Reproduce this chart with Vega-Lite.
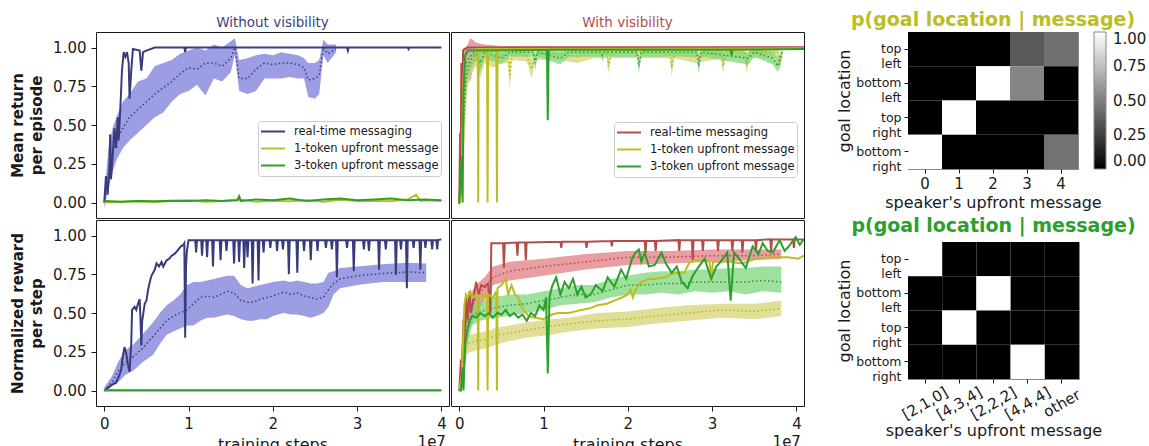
{
"$schema": "https://vega.github.io/schema/vega-lite/v6.json",
"background": "white",
"padding": {"left": 10, "top": 0, "right": 0, "bottom": 0},
"config": {
  "font": "DejaVu Sans",
  "view": {"stroke": "#1a1a1a", "strokeWidth": 1},
  "axis": {"grid": false, "domain": false, "tickColor": "#1a1a1a", "tickSize": 5, "labelColor": "#1a1a1a", "titleColor": "#1a1a1a", "labelFontSize": 15, "titleFontSize": 16, "titleFontWeight": "normal", "labelFlush": false, "labelOverlap": false, "labelPadding": 5},
  "title": {"font": "DejaVu Sans"}
},
"datasets": {
"tl_line": [
{"series":"real-time messaging","x":0,"y":0},{"series":"real-time messaging","x":0.02,"y":0.17},{"series":"real-time messaging","x":0.04,"y":0.05},{"series":"real-time messaging","x":0.06,"y":0.2},{"series":"real-time messaging","x":0.07,"y":0.44},{"series":"real-time messaging","x":0.08,"y":0.15},{"series":"real-time messaging","x":0.1,"y":0.3},{"series":"real-time messaging","x":0.12,"y":0.48},{"series":"real-time messaging","x":0.14,"y":0.35},{"series":"real-time messaging","x":0.16,"y":0.55},{"series":"real-time messaging","x":0.17,"y":0.4},{"series":"real-time messaging","x":0.19,"y":0.6},{"series":"real-time messaging","x":0.21,"y":0.85},{"series":"real-time messaging","x":0.23,"y":0.97},{"series":"real-time messaging","x":0.25,"y":0.94},{"series":"real-time messaging","x":0.27,"y":0.97},{"series":"real-time messaging","x":0.29,"y":0.9},{"series":"real-time messaging","x":0.3,"y":0.67},{"series":"real-time messaging","x":0.32,"y":0.85},{"series":"real-time messaging","x":0.34,"y":0.99},{"series":"real-time messaging","x":0.42,"y":0.98},{"series":"real-time messaging","x":0.44,"y":0.85},{"series":"real-time messaging","x":0.46,"y":0.97},{"series":"real-time messaging","x":0.5,"y":0.98},{"series":"real-time messaging","x":0.6,"y":1.0},{"series":"real-time messaging","x":0.95,"y":1.0},{"series":"real-time messaging","x":0.96,"y":0.97},{"series":"real-time messaging","x":0.97,"y":1.0},{"series":"real-time messaging","x":2.88,"y":1.0},{"series":"real-time messaging","x":2.89,"y":0.98},{"series":"real-time messaging","x":2.9,"y":1.0},{"series":"real-time messaging","x":3.6,"y":1.0},{"series":"real-time messaging","x":3.61,"y":0.99},{"series":"real-time messaging","x":3.62,"y":1.0},{"series":"real-time messaging","x":4.0,"y":1.0},
{"series":"1-token upfront message","x":0,"y":0.0},{"series":"1-token upfront message","x":0.2,"y":0.005},{"series":"1-token upfront message","x":0.4,"y":0.008},{"series":"1-token upfront message","x":0.6,"y":0.004},{"series":"1-token upfront message","x":0.8,"y":0.01},{"series":"1-token upfront message","x":1.0,"y":0.015},{"series":"1-token upfront message","x":1.2,"y":0.005},{"series":"1-token upfront message","x":1.4,"y":0.01},{"series":"1-token upfront message","x":1.6,"y":0.02},{"series":"1-token upfront message","x":1.8,"y":0.005},{"series":"1-token upfront message","x":2.0,"y":0.012},{"series":"1-token upfront message","x":2.2,"y":0.008},{"series":"1-token upfront message","x":2.4,"y":0.015},{"series":"1-token upfront message","x":2.6,"y":0.005},{"series":"1-token upfront message","x":2.8,"y":0.018},{"series":"1-token upfront message","x":3.0,"y":0.01},{"series":"1-token upfront message","x":3.2,"y":0.012},{"series":"1-token upfront message","x":3.4,"y":0.008},{"series":"1-token upfront message","x":3.6,"y":0.02},{"series":"1-token upfront message","x":3.7,"y":0.05},{"series":"1-token upfront message","x":3.75,"y":0.01},{"series":"1-token upfront message","x":3.8,"y":0.015},{"series":"1-token upfront message","x":4.0,"y":0.01},
{"series":"3-token upfront message","x":0,"y":0.01},{"series":"3-token upfront message","x":0.2,"y":0.005},{"series":"3-token upfront message","x":0.4,"y":0.01},{"series":"3-token upfront message","x":0.6,"y":0.008},{"series":"3-token upfront message","x":0.8,"y":0.012},{"series":"3-token upfront message","x":1.0,"y":0.01},{"series":"3-token upfront message","x":1.2,"y":0.015},{"series":"3-token upfront message","x":1.4,"y":0.01},{"series":"3-token upfront message","x":1.58,"y":0.015},{"series":"3-token upfront message","x":1.6,"y":0.04},{"series":"3-token upfront message","x":1.62,"y":0.01},{"series":"3-token upfront message","x":1.8,"y":0.02},{"series":"3-token upfront message","x":2.0,"y":0.015},{"series":"3-token upfront message","x":2.2,"y":0.025},{"series":"3-token upfront message","x":2.4,"y":0.01},{"series":"3-token upfront message","x":2.6,"y":0.02},{"series":"3-token upfront message","x":2.8,"y":0.025},{"series":"3-token upfront message","x":3.0,"y":0.015},{"series":"3-token upfront message","x":3.2,"y":0.02},{"series":"3-token upfront message","x":3.4,"y":0.025},{"series":"3-token upfront message","x":3.6,"y":0.015},{"series":"3-token upfront message","x":3.8,"y":0.02},{"series":"3-token upfront message","x":4.0,"y":0.015}
],
"tl_band": [
{"series":"real-time messaging","x":0,"lo":-0.04,"mean":0,"hi":0.04},{"series":"real-time messaging","x":0.05,"lo":0.1,"mean":0.2,"hi":0.35},{"series":"real-time messaging","x":0.1,"lo":0.2,"mean":0.33,"hi":0.48},{"series":"real-time messaging","x":0.15,"lo":0.28,"mean":0.4,"hi":0.56},{"series":"real-time messaging","x":0.22,"lo":0.35,"mean":0.48,"hi":0.65},{"series":"real-time messaging","x":0.3,"lo":0.4,"mean":0.55,"hi":0.7},{"series":"real-time messaging","x":0.4,"lo":0.45,"mean":0.6,"hi":0.78},{"series":"real-time messaging","x":0.5,"lo":0.5,"mean":0.65,"hi":0.8},{"series":"real-time messaging","x":0.6,"lo":0.55,"mean":0.7,"hi":0.88},{"series":"real-time messaging","x":0.7,"lo":0.58,"mean":0.74,"hi":0.9},{"series":"real-time messaging","x":0.8,"lo":0.65,"mean":0.78,"hi":0.92},{"series":"real-time messaging","x":0.9,"lo":0.7,"mean":0.83,"hi":0.96},{"series":"real-time messaging","x":1.0,"lo":0.72,"mean":0.87,"hi":0.98},{"series":"real-time messaging","x":1.1,"lo":0.76,"mean":0.86,"hi":1.0},{"series":"real-time messaging","x":1.2,"lo":0.69,"mean":0.9,"hi":0.98},{"series":"real-time messaging","x":1.3,"lo":0.8,"mean":0.9,"hi":1.02},{"series":"real-time messaging","x":1.4,"lo":0.78,"mean":0.88,"hi":1.0},{"series":"real-time messaging","x":1.5,"lo":0.84,"mean":0.93,"hi":1.04},{"series":"real-time messaging","x":1.55,"lo":0.95,"mean":1.0,"hi":1.06},{"series":"real-time messaging","x":1.6,"lo":0.72,"mean":0.8,"hi":0.92},{"series":"real-time messaging","x":1.7,"lo":0.7,"mean":0.8,"hi":0.93},{"series":"real-time messaging","x":1.8,"lo":0.72,"mean":0.86,"hi":0.95},{"series":"real-time messaging","x":1.9,"lo":0.8,"mean":0.9,"hi":0.96},{"series":"real-time messaging","x":2.0,"lo":0.8,"mean":0.89,"hi":0.95},{"series":"real-time messaging","x":2.1,"lo":0.8,"mean":0.9,"hi":0.97},{"series":"real-time messaging","x":2.2,"lo":0.81,"mean":0.9,"hi":0.96},{"series":"real-time messaging","x":2.3,"lo":0.8,"mean":0.89,"hi":0.95},{"series":"real-time messaging","x":2.37,"lo":0.8,"mean":0.87,"hi":0.93},{"series":"real-time messaging","x":2.42,"lo":0.68,"mean":0.79,"hi":0.9},{"series":"real-time messaging","x":2.5,"lo":0.67,"mean":0.8,"hi":0.9},{"series":"real-time messaging","x":2.55,"lo":0.7,"mean":0.82,"hi":0.92},{"series":"real-time messaging","x":2.6,"lo":0.95,"mean":1.0,"hi":1.05},{"series":"real-time messaging","x":2.65,"lo":0.9,"mean":0.96,"hi":1.02},{"series":"real-time messaging","x":2.75,"lo":0.97,"mean":0.99,"hi":1.02}
],
"bl_line": [
{"series":"real-time messaging","x":0,"y":0},{"series":"real-time messaging","x":0.05,"y":0.02},{"series":"real-time messaging","x":0.1,"y":0.04},{"series":"real-time messaging","x":0.14,"y":0.05},{"series":"real-time messaging","x":0.18,"y":0.1},{"series":"real-time messaging","x":0.2,"y":0.13},{"series":"real-time messaging","x":0.22,"y":0.22},{"series":"real-time messaging","x":0.24,"y":0.28},{"series":"real-time messaging","x":0.26,"y":0.24},{"series":"real-time messaging","x":0.28,"y":0.17},{"series":"real-time messaging","x":0.3,"y":0.12},{"series":"real-time messaging","x":0.32,"y":0.3},{"series":"real-time messaging","x":0.33,"y":0.52},{"series":"real-time messaging","x":0.36,"y":0.54},{"series":"real-time messaging","x":0.38,"y":0.52},{"series":"real-time messaging","x":0.4,"y":0.56},{"series":"real-time messaging","x":0.42,"y":0.59},{"series":"real-time messaging","x":0.43,"y":0.45},{"series":"real-time messaging","x":0.44,"y":0.29},{"series":"real-time messaging","x":0.45,"y":0.45},{"series":"real-time messaging","x":0.48,"y":0.56},{"series":"real-time messaging","x":0.5,"y":0.58},{"series":"real-time messaging","x":0.52,"y":0.65},{"series":"real-time messaging","x":0.54,"y":0.7},{"series":"real-time messaging","x":0.56,"y":0.74},{"series":"real-time messaging","x":0.6,"y":0.78},{"series":"real-time messaging","x":0.62,"y":0.82},{"series":"real-time messaging","x":0.65,"y":0.8},{"series":"real-time messaging","x":0.68,"y":0.83},{"series":"real-time messaging","x":0.7,"y":0.8},{"series":"real-time messaging","x":0.74,"y":0.84},{"series":"real-time messaging","x":0.77,"y":0.85},{"series":"real-time messaging","x":0.8,"y":0.87},{"series":"real-time messaging","x":0.83,"y":0.88},{"series":"real-time messaging","x":0.85,"y":0.89},{"series":"real-time messaging","x":0.88,"y":0.91},{"series":"real-time messaging","x":0.91,"y":0.93},{"series":"real-time messaging","x":0.94,"y":0.94},{"series":"real-time messaging","x":0.95,"y":0.95},{"series":"real-time messaging","x":0.96,"y":0.34},{"series":"real-time messaging","x":0.97,"y":0.8},{"series":"real-time messaging","x":0.98,"y":0.9},{"series":"real-time messaging","x":1.0,"y":0.97},
{"series":"real-time messaging","x":1.08,"y":0.97},{"series":"real-time messaging","x":1.09,"y":0.89},{"series":"real-time messaging","x":1.1,"y":0.97},
{"series":"real-time messaging","x":1.15,"y":0.97},{"series":"real-time messaging","x":1.16,"y":0.87},{"series":"real-time messaging","x":1.17,"y":0.97},
{"series":"real-time messaging","x":1.21,"y":0.97},{"series":"real-time messaging","x":1.22,"y":0.86},{"series":"real-time messaging","x":1.23,"y":0.97},
{"series":"real-time messaging","x":1.28,"y":0.97},{"series":"real-time messaging","x":1.29,"y":0.8},{"series":"real-time messaging","x":1.3,"y":0.97},
{"series":"real-time messaging","x":1.37,"y":0.97},{"series":"real-time messaging","x":1.38,"y":0.84},{"series":"real-time messaging","x":1.39,"y":0.97},
{"series":"real-time messaging","x":1.44,"y":0.97},{"series":"real-time messaging","x":1.45,"y":0.9},{"series":"real-time messaging","x":1.46,"y":0.97},
{"series":"real-time messaging","x":1.53,"y":0.97},{"series":"real-time messaging","x":1.54,"y":0.82},{"series":"real-time messaging","x":1.55,"y":0.97},
{"series":"real-time messaging","x":1.59,"y":0.97},{"series":"real-time messaging","x":1.6,"y":0.83},{"series":"real-time messaging","x":1.61,"y":0.97},
{"series":"real-time messaging","x":1.65,"y":0.97},{"series":"real-time messaging","x":1.66,"y":0.79},{"series":"real-time messaging","x":1.67,"y":0.97},
{"series":"real-time messaging","x":1.69,"y":0.97},{"series":"real-time messaging","x":1.7,"y":0.86},{"series":"real-time messaging","x":1.71,"y":0.97},
{"series":"real-time messaging","x":1.75,"y":0.97},{"series":"real-time messaging","x":1.76,"y":0.69},{"series":"real-time messaging","x":1.77,"y":0.97},
{"series":"real-time messaging","x":1.82,"y":0.97},{"series":"real-time messaging","x":1.83,"y":0.71},{"series":"real-time messaging","x":1.84,"y":0.97},
{"series":"real-time messaging","x":1.88,"y":0.97},{"series":"real-time messaging","x":1.89,"y":0.89},{"series":"real-time messaging","x":1.9,"y":0.97},
{"series":"real-time messaging","x":1.96,"y":0.97},{"series":"real-time messaging","x":1.97,"y":0.92},{"series":"real-time messaging","x":1.98,"y":0.97},
{"series":"real-time messaging","x":2.04,"y":0.97},{"series":"real-time messaging","x":2.05,"y":0.9},{"series":"real-time messaging","x":2.06,"y":0.97},
{"series":"real-time messaging","x":2.11,"y":0.97},{"series":"real-time messaging","x":2.12,"y":0.91},{"series":"real-time messaging","x":2.13,"y":0.97},
{"series":"real-time messaging","x":2.18,"y":0.97},{"series":"real-time messaging","x":2.19,"y":0.75},{"series":"real-time messaging","x":2.2,"y":0.97},
{"series":"real-time messaging","x":2.28,"y":0.97},{"series":"real-time messaging","x":2.29,"y":0.76},{"series":"real-time messaging","x":2.3,"y":0.97},
{"series":"real-time messaging","x":2.36,"y":0.97},{"series":"real-time messaging","x":2.37,"y":0.9},{"series":"real-time messaging","x":2.38,"y":0.97},
{"series":"real-time messaging","x":2.44,"y":0.97},{"series":"real-time messaging","x":2.45,"y":0.84},{"series":"real-time messaging","x":2.46,"y":0.97},
{"series":"real-time messaging","x":2.52,"y":0.97},{"series":"real-time messaging","x":2.53,"y":0.9},{"series":"real-time messaging","x":2.54,"y":0.97},
{"series":"real-time messaging","x":2.62,"y":0.97},{"series":"real-time messaging","x":2.63,"y":0.92},{"series":"real-time messaging","x":2.64,"y":0.97},
{"series":"real-time messaging","x":2.69,"y":0.97},{"series":"real-time messaging","x":2.7,"y":0.91},{"series":"real-time messaging","x":2.71,"y":0.97},
{"series":"real-time messaging","x":2.75,"y":0.97},{"series":"real-time messaging","x":2.76,"y":0.73},{"series":"real-time messaging","x":2.77,"y":0.97},
{"series":"real-time messaging","x":2.87,"y":0.97},{"series":"real-time messaging","x":2.88,"y":0.92},{"series":"real-time messaging","x":2.89,"y":0.97},
{"series":"real-time messaging","x":2.95,"y":0.97},{"series":"real-time messaging","x":2.96,"y":0.77},{"series":"real-time messaging","x":2.97,"y":0.97},
{"series":"real-time messaging","x":3.07,"y":0.97},{"series":"real-time messaging","x":3.08,"y":0.91},{"series":"real-time messaging","x":3.09,"y":0.97},
{"series":"real-time messaging","x":3.13,"y":0.97},{"series":"real-time messaging","x":3.14,"y":0.9},{"series":"real-time messaging","x":3.15,"y":0.97},
{"series":"real-time messaging","x":3.25,"y":0.97},{"series":"real-time messaging","x":3.26,"y":0.78},{"series":"real-time messaging","x":3.27,"y":0.97},
{"series":"real-time messaging","x":3.33,"y":0.97},{"series":"real-time messaging","x":3.34,"y":0.91},{"series":"real-time messaging","x":3.35,"y":0.97},
{"series":"real-time messaging","x":3.45,"y":0.97},{"series":"real-time messaging","x":3.46,"y":0.745},{"series":"real-time messaging","x":3.47,"y":0.97},
{"series":"real-time messaging","x":3.51,"y":0.97},{"series":"real-time messaging","x":3.52,"y":0.91},{"series":"real-time messaging","x":3.53,"y":0.97},
{"series":"real-time messaging","x":3.58,"y":0.97},{"series":"real-time messaging","x":3.59,"y":0.66},{"series":"real-time messaging","x":3.6,"y":0.97},
{"series":"real-time messaging","x":3.66,"y":0.97},{"series":"real-time messaging","x":3.67,"y":0.92},{"series":"real-time messaging","x":3.68,"y":0.97},
{"series":"real-time messaging","x":3.74,"y":0.97},{"series":"real-time messaging","x":3.75,"y":0.78},{"series":"real-time messaging","x":3.76,"y":0.97},
{"series":"real-time messaging","x":3.8,"y":0.97},{"series":"real-time messaging","x":3.81,"y":0.92},{"series":"real-time messaging","x":3.82,"y":0.97},
{"series":"real-time messaging","x":3.88,"y":0.97},{"series":"real-time messaging","x":3.89,"y":0.91},{"series":"real-time messaging","x":3.9,"y":0.97},
{"series":"real-time messaging","x":3.94,"y":0.97},{"series":"real-time messaging","x":3.95,"y":0.91},{"series":"real-time messaging","x":3.96,"y":0.97},
{"series":"real-time messaging","x":4.0,"y":0.975},
{"series":"1-token upfront message","x":0,"y":0},{"series":"1-token upfront message","x":4.0,"y":0},
{"series":"3-token upfront message","x":0,"y":0.002},{"series":"3-token upfront message","x":4.0,"y":0.002}
],
"bl_band": [
{"series":"real-time messaging","x":0,"lo":-0.01,"mean":0,"hi":0.02},{"series":"real-time messaging","x":0.1,"lo":0.03,"mean":0.06,"hi":0.1},{"series":"real-time messaging","x":0.16,"lo":0.05,"mean":0.12,"hi":0.18},{"series":"real-time messaging","x":0.25,"lo":0.1,"mean":0.18,"hi":0.26},{"series":"real-time messaging","x":0.35,"lo":0.13,"mean":0.22,"hi":0.3},{"series":"real-time messaging","x":0.45,"lo":0.18,"mean":0.27,"hi":0.36},{"series":"real-time messaging","x":0.58,"lo":0.23,"mean":0.35,"hi":0.44},{"series":"real-time messaging","x":0.66,"lo":0.3,"mean":0.4,"hi":0.5},{"series":"real-time messaging","x":0.74,"lo":0.36,"mean":0.45,"hi":0.55},{"series":"real-time messaging","x":0.82,"lo":0.38,"mean":0.48,"hi":0.58},{"series":"real-time messaging","x":0.9,"lo":0.4,"mean":0.5,"hi":0.62},{"series":"real-time messaging","x":0.98,"lo":0.42,"mean":0.52,"hi":0.68},{"series":"real-time messaging","x":1.06,"lo":0.42,"mean":0.56,"hi":0.7},{"series":"real-time messaging","x":1.14,"lo":0.45,"mean":0.6,"hi":0.7},{"series":"real-time messaging","x":1.22,"lo":0.47,"mean":0.61,"hi":0.71},{"series":"real-time messaging","x":1.3,"lo":0.47,"mean":0.6,"hi":0.72},{"series":"real-time messaging","x":1.38,"lo":0.48,"mean":0.62,"hi":0.73},{"series":"real-time messaging","x":1.46,"lo":0.49,"mean":0.64,"hi":0.74},{"series":"real-time messaging","x":1.54,"lo":0.48,"mean":0.63,"hi":0.74},{"series":"real-time messaging","x":1.62,"lo":0.46,"mean":0.58,"hi":0.68},{"series":"real-time messaging","x":1.7,"lo":0.45,"mean":0.57,"hi":0.66},{"series":"real-time messaging","x":1.77,"lo":0.45,"mean":0.57,"hi":0.67},{"series":"real-time messaging","x":1.85,"lo":0.46,"mean":0.59,"hi":0.68},{"series":"real-time messaging","x":1.93,"lo":0.46,"mean":0.6,"hi":0.69},{"series":"real-time messaging","x":2.0,"lo":0.48,"mean":0.61,"hi":0.7},{"series":"real-time messaging","x":2.13,"lo":0.5,"mean":0.635,"hi":0.71},{"series":"real-time messaging","x":2.21,"lo":0.49,"mean":0.62,"hi":0.7},{"series":"real-time messaging","x":2.29,"lo":0.49,"mean":0.63,"hi":0.71},{"series":"real-time messaging","x":2.37,"lo":0.48,"mean":0.61,"hi":0.7},{"series":"real-time messaging","x":2.45,"lo":0.47,"mean":0.6,"hi":0.69},{"series":"real-time messaging","x":2.52,"lo":0.48,"mean":0.59,"hi":0.69},{"series":"real-time messaging","x":2.6,"lo":0.5,"mean":0.6,"hi":0.7},{"series":"real-time messaging","x":2.66,"lo":0.54,"mean":0.65,"hi":0.76},{"series":"real-time messaging","x":2.72,"lo":0.62,"mean":0.69,"hi":0.77},{"series":"real-time messaging","x":2.8,"lo":0.66,"mean":0.72,"hi":0.79},{"series":"real-time messaging","x":3.0,"lo":0.68,"mean":0.74,"hi":0.8},{"series":"real-time messaging","x":3.3,"lo":0.7,"mean":0.755,"hi":0.815},{"series":"real-time messaging","x":3.6,"lo":0.7,"mean":0.765,"hi":0.825},{"series":"real-time messaging","x":3.82,"lo":0.7,"mean":0.76,"hi":0.82}
],
"tr_line": [
{"series":"real-time messaging","x":0,"y":-0.01},{"series":"real-time messaging","x":0.01,"y":0.45},{"series":"real-time messaging","x":0.015,"y":0.05},{"series":"real-time messaging","x":0.025,"y":0.9},{"series":"real-time messaging","x":0.035,"y":0.55},{"series":"real-time messaging","x":0.045,"y":0.98},{"series":"real-time messaging","x":0.06,"y":0.99},{"series":"real-time messaging","x":0.1,"y":1.0},{"series":"real-time messaging","x":4.09,"y":1.0},
{"series":"1-token upfront message","x":0,"y":0},{"series":"1-token upfront message","x":0.03,"y":0.2},{"series":"1-token upfront message","x":0.05,"y":0.8},{"series":"1-token upfront message","x":0.07,"y":0.95},{"series":"1-token upfront message","x":0.1,"y":0.98},{"series":"1-token upfront message","x":0.22,"y":0.99},{"series":"1-token upfront message","x":0.225,"y":0.0},{"series":"1-token upfront message","x":0.23,"y":0.99},{"series":"1-token upfront message","x":0.33,"y":0.99},{"series":"1-token upfront message","x":0.336,"y":0.0},{"series":"1-token upfront message","x":0.342,"y":0.99},{"series":"1-token upfront message","x":0.44,"y":0.99},{"series":"1-token upfront message","x":0.447,"y":0.0},{"series":"1-token upfront message","x":0.454,"y":0.99},{"series":"1-token upfront message","x":4.09,"y":0.995},
{"series":"3-token upfront message","x":0,"y":0},{"series":"3-token upfront message","x":0.03,"y":0.3},{"series":"3-token upfront message","x":0.04,"y":0.0},{"series":"3-token upfront message","x":0.05,"y":0.7},{"series":"3-token upfront message","x":0.07,"y":0.95},{"series":"3-token upfront message","x":0.1,"y":0.98},{"series":"3-token upfront message","x":1.04,"y":0.985},{"series":"3-token upfront message","x":1.05,"y":0.53},{"series":"3-token upfront message","x":1.06,"y":0.985},{"series":"3-token upfront message","x":3.22,"y":0.985},{"series":"3-token upfront message","x":3.23,"y":0.95},{"series":"3-token upfront message","x":3.24,"y":0.985},{"series":"3-token upfront message","x":4.09,"y":0.99}
],
"tr_band": [
{"series":"real-time messaging","x":0,"lo":-0.02,"mean":0,"hi":0.02},{"series":"real-time messaging","x":0.02,"lo":0.1,"mean":0.4,"hi":0.7},{"series":"real-time messaging","x":0.05,"lo":0.6,"mean":0.85,"hi":0.98},{"series":"real-time messaging","x":0.1,"lo":0.8,"mean":0.92,"hi":1.02},{"series":"real-time messaging","x":0.13,"lo":0.78,"mean":0.94,"hi":1.06},{"series":"real-time messaging","x":0.16,"lo":0.85,"mean":0.96,"hi":1.05},{"series":"real-time messaging","x":0.2,"lo":0.92,"mean":0.98,"hi":1.03},{"series":"real-time messaging","x":0.3,"lo":0.97,"mean":0.99,"hi":1.02},{"series":"real-time messaging","x":0.5,"lo":0.98,"mean":1.0,"hi":1.01},{"series":"real-time messaging","x":4.09,"lo":0.99,"mean":1.0,"hi":1.01},
{"series":"1-token upfront message","x":0,"lo":-0.02,"mean":0,"hi":0.02},{"series":"1-token upfront message","x":0.02,"lo":0.0,"mean":0.1,"hi":0.25},{"series":"1-token upfront message","x":0.04,"lo":0.1,"mean":0.3,"hi":0.5},{"series":"1-token upfront message","x":0.06,"lo":0.35,"mean":0.55,"hi":0.75},{"series":"1-token upfront message","x":0.08,"lo":0.6,"mean":0.75,"hi":0.9},{"series":"1-token upfront message","x":0.1,"lo":0.75,"mean":0.85,"hi":0.95},{"series":"1-token upfront message","x":0.15,"lo":0.84,"mean":0.9,"hi":0.97},{"series":"1-token upfront message","x":0.2,"lo":0.88,"mean":0.93,"hi":0.98},{"series":"1-token upfront message","x":0.25,"lo":0.8,"mean":0.88,"hi":0.96},{"series":"1-token upfront message","x":0.3,"lo":0.9,"mean":0.95,"hi":0.99},{"series":"1-token upfront message","x":0.4,"lo":0.87,"mean":0.92,"hi":0.98},{"series":"1-token upfront message","x":0.5,"lo":0.9,"mean":0.95,"hi":0.99},{"series":"1-token upfront message","x":0.58,"lo":0.9,"mean":0.95,"hi":0.99},{"series":"1-token upfront message","x":0.6,"lo":0.72,"mean":0.8,"hi":0.9},{"series":"1-token upfront message","x":0.62,"lo":0.9,"mean":0.95,"hi":0.99},{"series":"1-token upfront message","x":0.65,"lo":0.92,"mean":0.96,"hi":0.99},{"series":"1-token upfront message","x":0.8,"lo":0.91,"mean":0.95,"hi":0.99},{"series":"1-token upfront message","x":0.86,"lo":0.8,"mean":0.86,"hi":0.93},{"series":"1-token upfront message","x":0.9,"lo":0.92,"mean":0.96,"hi":0.99},{"series":"1-token upfront message","x":1.2,"lo":0.92,"mean":0.96,"hi":0.99},{"series":"1-token upfront message","x":1.4,"lo":0.9,"mean":0.94,"hi":0.98},{"series":"1-token upfront message","x":1.6,"lo":0.93,"mean":0.97,"hi":0.99},{"series":"1-token upfront message","x":1.75,"lo":0.93,"mean":0.97,"hi":0.99},{"series":"1-token upfront message","x":1.77,"lo":0.83,"mean":0.88,"hi":0.93},{"series":"1-token upfront message","x":1.8,"lo":0.93,"mean":0.97,"hi":0.99},{"series":"1-token upfront message","x":2.5,"lo":0.93,"mean":0.97,"hi":0.99},{"series":"1-token upfront message","x":2.52,"lo":0.81,"mean":0.87,"hi":0.93},{"series":"1-token upfront message","x":2.55,"lo":0.93,"mean":0.96,"hi":0.99},{"series":"1-token upfront message","x":2.8,"lo":0.9,"mean":0.94,"hi":0.98},{"series":"1-token upfront message","x":3.11,"lo":0.93,"mean":0.97,"hi":0.99},{"series":"1-token upfront message","x":3.13,"lo":0.83,"mean":0.88,"hi":0.93},{"series":"1-token upfront message","x":3.16,"lo":0.93,"mean":0.97,"hi":0.99},{"series":"1-token upfront message","x":3.39,"lo":0.93,"mean":0.97,"hi":0.99},{"series":"1-token upfront message","x":3.41,"lo":0.83,"mean":0.88,"hi":0.93},{"series":"1-token upfront message","x":3.44,"lo":0.93,"mean":0.97,"hi":0.99},{"series":"1-token upfront message","x":3.78,"lo":0.93,"mean":0.97,"hi":0.99},{"series":"1-token upfront message","x":3.8,"lo":0.84,"mean":0.89,"hi":0.94},{"series":"1-token upfront message","x":3.83,"lo":0.93,"mean":0.97,"hi":0.99},
{"series":"3-token upfront message","x":0,"lo":-0.02,"mean":0,"hi":0.02},{"series":"3-token upfront message","x":0.02,"lo":0.05,"mean":0.15,"hi":0.3},{"series":"3-token upfront message","x":0.04,"lo":0.25,"mean":0.4,"hi":0.6},{"series":"3-token upfront message","x":0.06,"lo":0.5,"mean":0.65,"hi":0.8},{"series":"3-token upfront message","x":0.08,"lo":0.7,"mean":0.8,"hi":0.9},{"series":"3-token upfront message","x":0.1,"lo":0.8,"mean":0.88,"hi":0.95},{"series":"3-token upfront message","x":0.15,"lo":0.88,"mean":0.93,"hi":0.98},{"series":"3-token upfront message","x":0.2,"lo":0.92,"mean":0.96,"hi":0.99},{"series":"3-token upfront message","x":0.25,"lo":0.84,"mean":0.9,"hi":0.96},{"series":"3-token upfront message","x":0.3,"lo":0.93,"mean":0.97,"hi":0.99},{"series":"3-token upfront message","x":0.5,"lo":0.89,"mean":0.93,"hi":0.97},{"series":"3-token upfront message","x":0.6,"lo":0.94,"mean":0.97,"hi":0.99},{"series":"3-token upfront message","x":0.88,"lo":0.94,"mean":0.97,"hi":0.99},{"series":"3-token upfront message","x":0.9,"lo":0.85,"mean":0.9,"hi":0.95},{"series":"3-token upfront message","x":0.93,"lo":0.94,"mean":0.97,"hi":0.99},{"series":"3-token upfront message","x":1.2,"lo":0.89,"mean":0.93,"hi":0.97},{"series":"3-token upfront message","x":1.3,"lo":0.94,"mean":0.97,"hi":0.99},{"series":"3-token upfront message","x":1.68,"lo":0.94,"mean":0.97,"hi":0.99},{"series":"3-token upfront message","x":1.7,"lo":0.91,"mean":0.95,"hi":0.98},{"series":"3-token upfront message","x":1.72,"lo":0.94,"mean":0.97,"hi":0.99},{"series":"3-token upfront message","x":2.11,"lo":0.94,"mean":0.97,"hi":0.99},{"series":"3-token upfront message","x":2.13,"lo":0.83,"mean":0.88,"hi":0.93},{"series":"3-token upfront message","x":2.16,"lo":0.94,"mean":0.97,"hi":0.99},{"series":"3-token upfront message","x":2.82,"lo":0.94,"mean":0.97,"hi":0.99},{"series":"3-token upfront message","x":2.84,"lo":0.83,"mean":0.88,"hi":0.93},{"series":"3-token upfront message","x":2.87,"lo":0.94,"mean":0.97,"hi":0.99},{"series":"3-token upfront message","x":3.43,"lo":0.89,"mean":0.93,"hi":0.97},{"series":"3-token upfront message","x":3.5,"lo":0.94,"mean":0.97,"hi":0.99},{"series":"3-token upfront message","x":3.72,"lo":0.89,"mean":0.93,"hi":0.97},{"series":"3-token upfront message","x":3.78,"lo":0.84,"mean":0.88,"hi":0.93},{"series":"3-token upfront message","x":3.83,"lo":0.94,"mean":0.97,"hi":0.99}
],
"br_line": [
{"series":"real-time messaging","x":0,"y":0},{"series":"real-time messaging","x":0.02,"y":0.2},{"series":"real-time messaging","x":0.03,"y":0.1},{"series":"real-time messaging","x":0.05,"y":0.46},{"series":"real-time messaging","x":0.06,"y":0.3},{"series":"real-time messaging","x":0.08,"y":0.61},{"series":"real-time messaging","x":0.1,"y":0.45},{"series":"real-time messaging","x":0.12,"y":0.64},{"series":"real-time messaging","x":0.14,"y":0.5},{"series":"real-time messaging","x":0.17,"y":0.6},{"series":"real-time messaging","x":0.2,"y":0.7},{"series":"real-time messaging","x":0.23,"y":0.62},{"series":"real-time messaging","x":0.26,"y":0.68},{"series":"real-time messaging","x":0.3,"y":0.67},{"series":"real-time messaging","x":0.34,"y":0.69},{"series":"real-time messaging","x":0.37,"y":0.5},{"series":"real-time messaging","x":0.38,"y":0.95},{"series":"real-time messaging","x":0.52,"y":0.95},{"series":"real-time messaging","x":0.53,"y":0.79},{"series":"real-time messaging","x":0.54,"y":0.95},{"series":"real-time messaging","x":0.68,"y":0.955},{"series":"real-time messaging","x":0.69,"y":0.87},{"series":"real-time messaging","x":0.7,"y":0.955},{"series":"real-time messaging","x":0.78,"y":0.955},{"series":"real-time messaging","x":0.79,"y":0.84},{"series":"real-time messaging","x":0.8,"y":0.955},{"series":"real-time messaging","x":1.2,"y":0.96},{"series":"real-time messaging","x":1.21,"y":0.92},{"series":"real-time messaging","x":1.22,"y":0.96},{"series":"real-time messaging","x":1.5,"y":0.96},{"series":"real-time messaging","x":1.51,"y":0.92},{"series":"real-time messaging","x":1.52,"y":0.96},{"series":"real-time messaging","x":1.8,"y":0.965},{"series":"real-time messaging","x":1.81,"y":0.93},{"series":"real-time messaging","x":1.82,"y":0.965},{"series":"real-time messaging","x":2.2,"y":0.965},{"series":"real-time messaging","x":2.21,"y":0.89},{"series":"real-time messaging","x":2.22,"y":0.965},{"series":"real-time messaging","x":2.32,"y":0.965},{"series":"real-time messaging","x":2.33,"y":0.9},{"series":"real-time messaging","x":2.34,"y":0.965},{"series":"real-time messaging","x":2.6,"y":0.97},{"series":"real-time messaging","x":2.61,"y":0.9},{"series":"real-time messaging","x":2.62,"y":0.97},{"series":"real-time messaging","x":2.76,"y":0.97},{"series":"real-time messaging","x":2.77,"y":0.84},{"series":"real-time messaging","x":2.78,"y":0.97},{"series":"real-time messaging","x":2.88,"y":0.97},{"series":"real-time messaging","x":2.89,"y":0.9},{"series":"real-time messaging","x":2.9,"y":0.97},{"series":"real-time messaging","x":3.06,"y":0.97},{"series":"real-time messaging","x":3.07,"y":0.9},{"series":"real-time messaging","x":3.08,"y":0.97},{"series":"real-time messaging","x":3.23,"y":0.97},{"series":"real-time messaging","x":3.24,"y":0.9},{"series":"real-time messaging","x":3.25,"y":0.97},{"series":"real-time messaging","x":3.35,"y":0.97},{"series":"real-time messaging","x":3.36,"y":0.89},{"series":"real-time messaging","x":3.37,"y":0.97},{"series":"real-time messaging","x":3.51,"y":0.97},{"series":"real-time messaging","x":3.52,"y":0.9},{"series":"real-time messaging","x":3.53,"y":0.97},{"series":"real-time messaging","x":3.69,"y":0.975},{"series":"real-time messaging","x":3.7,"y":0.9},{"series":"real-time messaging","x":3.71,"y":0.975},{"series":"real-time messaging","x":3.96,"y":0.975},{"series":"real-time messaging","x":3.97,"y":0.92},{"series":"real-time messaging","x":3.98,"y":0.975},{"series":"real-time messaging","x":4.09,"y":0.975},
{"series":"1-token upfront message","x":0,"y":0},{"series":"1-token upfront message","x":0.03,"y":0.1},{"series":"1-token upfront message","x":0.06,"y":0.55},{"series":"1-token upfront message","x":0.08,"y":0.62},{"series":"1-token upfront message","x":0.1,"y":0.6},{"series":"1-token upfront message","x":0.13,"y":0.64},{"series":"1-token upfront message","x":0.16,"y":0.6},{"series":"1-token upfront message","x":0.2,"y":0.62},{"series":"1-token upfront message","x":0.22,"y":0.6},{"series":"1-token upfront message","x":0.225,"y":0.0},{"series":"1-token upfront message","x":0.23,"y":0.6},{"series":"1-token upfront message","x":0.27,"y":0.62},{"series":"1-token upfront message","x":0.3,"y":0.6},{"series":"1-token upfront message","x":0.33,"y":0.62},{"series":"1-token upfront message","x":0.336,"y":0.0},{"series":"1-token upfront message","x":0.342,"y":0.62},{"series":"1-token upfront message","x":0.4,"y":0.6},{"series":"1-token upfront message","x":0.44,"y":0.64},{"series":"1-token upfront message","x":0.447,"y":0.0},{"series":"1-token upfront message","x":0.454,"y":0.66},{"series":"1-token upfront message","x":0.5,"y":0.68},{"series":"1-token upfront message","x":0.55,"y":0.72},{"series":"1-token upfront message","x":0.58,"y":0.62},{"series":"1-token upfront message","x":0.62,"y":0.68},{"series":"1-token upfront message","x":0.66,"y":0.62},{"series":"1-token upfront message","x":0.7,"y":0.6},{"series":"1-token upfront message","x":0.75,"y":0.53},{"series":"1-token upfront message","x":0.82,"y":0.48},{"series":"1-token upfront message","x":0.9,"y":0.47},{"series":"1-token upfront message","x":1.0,"y":0.46},{"series":"1-token upfront message","x":1.1,"y":0.49},{"series":"1-token upfront message","x":1.17,"y":0.5},{"series":"1-token upfront message","x":1.3,"y":0.5},{"series":"1-token upfront message","x":1.45,"y":0.52},{"series":"1-token upfront message","x":1.55,"y":0.53},{"series":"1-token upfront message","x":1.64,"y":0.55},{"series":"1-token upfront message","x":1.75,"y":0.56},{"series":"1-token upfront message","x":1.84,"y":0.58},{"series":"1-token upfront message","x":1.93,"y":0.6},{"series":"1-token upfront message","x":2.0,"y":0.62},{"series":"1-token upfront message","x":2.03,"y":0.65},{"series":"1-token upfront message","x":2.06,"y":0.6},{"series":"1-token upfront message","x":2.09,"y":0.65},{"series":"1-token upfront message","x":2.16,"y":0.7},{"series":"1-token upfront message","x":2.25,"y":0.72},{"series":"1-token upfront message","x":2.32,"y":0.72},{"series":"1-token upfront message","x":2.44,"y":0.73},{"series":"1-token upfront message","x":2.56,"y":0.76},{"series":"1-token upfront message","x":2.67,"y":0.76},{"series":"1-token upfront message","x":2.73,"y":0.825},{"series":"1-token upfront message","x":2.79,"y":0.835},{"series":"1-token upfront message","x":2.9,"y":0.84},{"series":"1-token upfront message","x":2.97,"y":0.83},{"series":"1-token upfront message","x":2.99,"y":0.71},{"series":"1-token upfront message","x":3.01,"y":0.83},{"series":"1-token upfront message","x":3.2,"y":0.83},{"series":"1-token upfront message","x":3.36,"y":0.82},{"series":"1-token upfront message","x":3.51,"y":0.85},{"series":"1-token upfront message","x":3.71,"y":0.86},{"series":"1-token upfront message","x":3.9,"y":0.86},{"series":"1-token upfront message","x":4.02,"y":0.85},{"series":"1-token upfront message","x":4.09,"y":0.87},
{"series":"3-token upfront message","x":0,"y":0},{"series":"3-token upfront message","x":0.02,"y":0.0},{"series":"3-token upfront message","x":0.04,"y":0.15},{"series":"3-token upfront message","x":0.05,"y":0.0},{"series":"3-token upfront message","x":0.07,"y":0.3},{"series":"3-token upfront message","x":0.1,"y":0.4},{"series":"3-token upfront message","x":0.13,"y":0.46},{"series":"3-token upfront message","x":0.15,"y":0.48},{"series":"3-token upfront message","x":0.2,"y":0.47},{"series":"3-token upfront message","x":0.25,"y":0.5},{"series":"3-token upfront message","x":0.3,"y":0.48},{"series":"3-token upfront message","x":0.35,"y":0.5},{"series":"3-token upfront message","x":0.4,"y":0.47},{"series":"3-token upfront message","x":0.45,"y":0.5},{"series":"3-token upfront message","x":0.5,"y":0.49},{"series":"3-token upfront message","x":0.55,"y":0.52},{"series":"3-token upfront message","x":0.6,"y":0.48},{"series":"3-token upfront message","x":0.65,"y":0.5},{"series":"3-token upfront message","x":0.7,"y":0.47},{"series":"3-token upfront message","x":0.75,"y":0.49},{"series":"3-token upfront message","x":0.8,"y":0.45},{"series":"3-token upfront message","x":0.85,"y":0.5},{"series":"3-token upfront message","x":0.9,"y":0.48},{"series":"3-token upfront message","x":0.95,"y":0.55},{"series":"3-token upfront message","x":1.0,"y":0.52},{"series":"3-token upfront message","x":1.03,"y":0.6},{"series":"3-token upfront message","x":1.05,"y":0.11},{"series":"3-token upfront message","x":1.07,"y":0.6},{"series":"3-token upfront message","x":1.1,"y":0.67},{"series":"3-token upfront message","x":1.15,"y":0.73},{"series":"3-token upfront message","x":1.2,"y":0.62},{"series":"3-token upfront message","x":1.25,"y":0.7},{"series":"3-token upfront message","x":1.3,"y":0.66},{"series":"3-token upfront message","x":1.35,"y":0.72},{"series":"3-token upfront message","x":1.4,"y":0.62},{"series":"3-token upfront message","x":1.45,"y":0.67},{"series":"3-token upfront message","x":1.5,"y":0.6},{"series":"3-token upfront message","x":1.56,"y":0.62},{"series":"3-token upfront message","x":1.62,"y":0.68},{"series":"3-token upfront message","x":1.7,"y":0.64},{"series":"3-token upfront message","x":1.76,"y":0.73},{"series":"3-token upfront message","x":1.84,"y":0.67},{"series":"3-token upfront message","x":1.92,"y":0.78},{"series":"3-token upfront message","x":1.98,"y":0.72},{"series":"3-token upfront message","x":2.05,"y":0.85},{"series":"3-token upfront message","x":2.09,"y":0.89},{"series":"3-token upfront message","x":2.13,"y":0.91},{"series":"3-token upfront message","x":2.16,"y":0.83},{"series":"3-token upfront message","x":2.2,"y":0.89},{"series":"3-token upfront message","x":2.25,"y":0.8},{"series":"3-token upfront message","x":2.32,"y":0.81},{"series":"3-token upfront message","x":2.4,"y":0.89},{"series":"3-token upfront message","x":2.45,"y":0.82},{"series":"3-token upfront message","x":2.52,"y":0.76},{"series":"3-token upfront message","x":2.58,"y":0.8},{"series":"3-token upfront message","x":2.64,"y":0.7},{"series":"3-token upfront message","x":2.71,"y":0.66},{"series":"3-token upfront message","x":2.77,"y":0.74},{"series":"3-token upfront message","x":2.83,"y":0.79},{"series":"3-token upfront message","x":2.91,"y":0.85},{"series":"3-token upfront message","x":2.99,"y":0.72},{"series":"3-token upfront message","x":3.05,"y":0.8},{"series":"3-token upfront message","x":3.1,"y":0.83},{"series":"3-token upfront message","x":3.18,"y":0.89},{"series":"3-token upfront message","x":3.22,"y":0.58},{"series":"3-token upfront message","x":3.26,"y":0.89},{"series":"3-token upfront message","x":3.32,"y":0.85},{"series":"3-token upfront message","x":3.4,"y":0.79},{"series":"3-token upfront message","x":3.48,"y":0.93},{"series":"3-token upfront message","x":3.55,"y":0.88},{"series":"3-token upfront message","x":3.6,"y":0.95},{"series":"3-token upfront message","x":3.66,"y":0.9},{"series":"3-token upfront message","x":3.72,"y":0.89},{"series":"3-token upfront message","x":3.8,"y":0.97},{"series":"3-token upfront message","x":3.86,"y":0.9},{"series":"3-token upfront message","x":3.91,"y":0.93},{"series":"3-token upfront message","x":3.99,"y":0.99},{"series":"3-token upfront message","x":4.04,"y":0.94},{"series":"3-token upfront message","x":4.08,"y":0.97}
],
"br_band": [
{"series":"real-time messaging","x":0,"lo":-0.02,"mean":0,"hi":0.02},{"series":"real-time messaging","x":0.05,"lo":0.15,"mean":0.3,"hi":0.45},{"series":"real-time messaging","x":0.1,"lo":0.35,"mean":0.48,"hi":0.6},{"series":"real-time messaging","x":0.2,"lo":0.5,"mean":0.6,"hi":0.68},{"series":"real-time messaging","x":0.3,"lo":0.58,"mean":0.66,"hi":0.73},{"series":"real-time messaging","x":0.4,"lo":0.68,"mean":0.73,"hi":0.8},{"series":"real-time messaging","x":0.6,"lo":0.71,"mean":0.77,"hi":0.83},{"series":"real-time messaging","x":1.0,"lo":0.74,"mean":0.8,"hi":0.85},{"series":"real-time messaging","x":1.5,"lo":0.78,"mean":0.83,"hi":0.88},{"series":"real-time messaging","x":2.0,"lo":0.81,"mean":0.86,"hi":0.9},{"series":"real-time messaging","x":2.5,"lo":0.82,"mean":0.86,"hi":0.9},{"series":"real-time messaging","x":3.0,"lo":0.83,"mean":0.87,"hi":0.91},{"series":"real-time messaging","x":3.5,"lo":0.84,"mean":0.87,"hi":0.91},{"series":"real-time messaging","x":3.82,"lo":0.85,"mean":0.88,"hi":0.91},
{"series":"1-token upfront message","x":0,"lo":-0.02,"mean":0,"hi":0.02},{"series":"1-token upfront message","x":0.03,"lo":0.05,"mean":0.12,"hi":0.2},{"series":"1-token upfront message","x":0.06,"lo":0.15,"mean":0.22,"hi":0.3},{"series":"1-token upfront message","x":0.1,"lo":0.24,"mean":0.3,"hi":0.36},{"series":"1-token upfront message","x":0.2,"lo":0.26,"mean":0.32,"hi":0.37},{"series":"1-token upfront message","x":0.3,"lo":0.27,"mean":0.33,"hi":0.38},{"series":"1-token upfront message","x":0.47,"lo":0.3,"mean":0.36,"hi":0.41},{"series":"1-token upfront message","x":0.6,"lo":0.32,"mean":0.37,"hi":0.42},{"series":"1-token upfront message","x":0.8,"lo":0.34,"mean":0.39,"hi":0.44},{"series":"1-token upfront message","x":1.09,"lo":0.36,"mean":0.415,"hi":0.46},{"series":"1-token upfront message","x":1.3,"lo":0.38,"mean":0.43,"hi":0.47},{"series":"1-token upfront message","x":1.64,"lo":0.4,"mean":0.45,"hi":0.5},{"series":"1-token upfront message","x":1.99,"lo":0.41,"mean":0.46,"hi":0.51},{"series":"1-token upfront message","x":2.32,"lo":0.43,"mean":0.48,"hi":0.53},{"series":"1-token upfront message","x":2.71,"lo":0.45,"mean":0.5,"hi":0.55},{"series":"1-token upfront message","x":3.11,"lo":0.47,"mean":0.52,"hi":0.56},{"series":"1-token upfront message","x":3.51,"lo":0.46,"mean":0.51,"hi":0.56},{"series":"1-token upfront message","x":3.82,"lo":0.48,"mean":0.53,"hi":0.58},
{"series":"3-token upfront message","x":0,"lo":-0.02,"mean":0,"hi":0.02},{"series":"3-token upfront message","x":0.05,"lo":0.1,"mean":0.2,"hi":0.3},{"series":"3-token upfront message","x":0.1,"lo":0.3,"mean":0.4,"hi":0.5},{"series":"3-token upfront message","x":0.15,"lo":0.42,"mean":0.48,"hi":0.55},{"series":"3-token upfront message","x":0.25,"lo":0.45,"mean":0.51,"hi":0.57},{"series":"3-token upfront message","x":0.4,"lo":0.47,"mean":0.53,"hi":0.6},{"series":"3-token upfront message","x":0.6,"lo":0.48,"mean":0.55,"hi":0.62},{"series":"3-token upfront message","x":0.8,"lo":0.5,"mean":0.56,"hi":0.62},{"series":"3-token upfront message","x":1.0,"lo":0.52,"mean":0.58,"hi":0.64},{"series":"3-token upfront message","x":1.2,"lo":0.55,"mean":0.6,"hi":0.66},{"series":"3-token upfront message","x":1.4,"lo":0.56,"mean":0.62,"hi":0.68},{"series":"3-token upfront message","x":1.6,"lo":0.57,"mean":0.62,"hi":0.68},{"series":"3-token upfront message","x":1.8,"lo":0.6,"mean":0.65,"hi":0.72},{"series":"3-token upfront message","x":2.0,"lo":0.62,"mean":0.68,"hi":0.74},{"series":"3-token upfront message","x":2.2,"lo":0.62,"mean":0.68,"hi":0.76},{"series":"3-token upfront message","x":2.4,"lo":0.63,"mean":0.69,"hi":0.77},{"series":"3-token upfront message","x":2.6,"lo":0.62,"mean":0.69,"hi":0.77},{"series":"3-token upfront message","x":2.8,"lo":0.64,"mean":0.7,"hi":0.78},{"series":"3-token upfront message","x":3.0,"lo":0.63,"mean":0.7,"hi":0.78},{"series":"3-token upfront message","x":3.2,"lo":0.64,"mean":0.7,"hi":0.79},{"series":"3-token upfront message","x":3.4,"lo":0.62,"mean":0.7,"hi":0.79},{"series":"3-token upfront message","x":3.6,"lo":0.64,"mean":0.71,"hi":0.8},{"series":"3-token upfront message","x":3.82,"lo":0.63,"mean":0.7,"hi":0.8}
],
"hm1": [
{"goal":"top left","message":"0","p":0},{"goal":"top left","message":"1","p":0},{"goal":"top left","message":"2","p":0},{"goal":"top left","message":"3","p":0.35},{"goal":"top left","message":"4","p":0.44},
{"goal":"bottom left","message":"0","p":0},{"goal":"bottom left","message":"1","p":0},{"goal":"bottom left","message":"2","p":1},{"goal":"bottom left","message":"3","p":0.52},{"goal":"bottom left","message":"4","p":0},
{"goal":"top right","message":"0","p":0},{"goal":"top right","message":"1","p":1},{"goal":"top right","message":"2","p":0},{"goal":"top right","message":"3","p":0},{"goal":"top right","message":"4","p":0},
{"goal":"bottom right","message":"0","p":1},{"goal":"bottom right","message":"1","p":0},{"goal":"bottom right","message":"2","p":0},{"goal":"bottom right","message":"3","p":0},{"goal":"bottom right","message":"4","p":0.45}
],
"hm2": [
{"goal":"top left","message":"[2,1,0]","p":1},{"goal":"top left","message":"[4,3,4]","p":0},{"goal":"top left","message":"[2,2,2]","p":0},{"goal":"top left","message":"[4,4,4]","p":0},{"goal":"top left","message":"other","p":0},
{"goal":"bottom left","message":"[2,1,0]","p":0},{"goal":"bottom left","message":"[4,3,4]","p":0},{"goal":"bottom left","message":"[2,2,2]","p":1},{"goal":"bottom left","message":"[4,4,4]","p":0},{"goal":"bottom left","message":"other","p":0},
{"goal":"top right","message":"[2,1,0]","p":0},{"goal":"top right","message":"[4,3,4]","p":1},{"goal":"top right","message":"[2,2,2]","p":0},{"goal":"top right","message":"[4,4,4]","p":0},{"goal":"top right","message":"other","p":0},
{"goal":"bottom right","message":"[2,1,0]","p":0},{"goal":"bottom right","message":"[4,3,4]","p":0},{"goal":"bottom right","message":"[2,2,2]","p":0},{"goal":"bottom right","message":"[4,4,4]","p":1},{"goal":"bottom right","message":"other","p":0}
]
},
"resolve": {"scale": {"color": "independent", "fill": "independent", "stroke": "independent"}, "legend": {"color": "independent", "fill": "independent", "stroke": "independent"}},
"spacing": 31,
"hconcat": [
{
"spacing": 0,
"resolve": {"scale": {"color": "independent", "fill": "independent", "stroke": "independent"}, "legend": {"color": "independent", "fill": "independent", "stroke": "independent"}},
"vconcat": [
{
"spacing": 0,
"resolve": {"scale": {"color": "independent", "fill": "independent", "stroke": "independent"}, "legend": {"color": "independent", "fill": "independent", "stroke": "independent"}},
"hconcat": [
{
"width": 353, "height": 186,
"title": {"text": "Without visibility", "color": "#3b3f80", "fontSize": 13.5, "fontWeight": "normal", "offset": 3},
"layer": [
{"data": {"name": "tl_band"}, "mark": {"type": "area", "clip": true},
 "encoding": {
  "x": {"field": "x", "type": "quantitative", "scale": {"domain": [-0.098, 4.09], "nice": false, "zero": false}, "axis": null},
  "y": {"field": "lo", "type": "quantitative", "scale": {"domain": [-0.1, 1.1], "nice": false, "zero": false}, "axis": {"values": [0, 0.25, 0.5, 0.75, 1], "format": ".2f", "title": ["Mean return", "per episode"], "titleFontWeight": "bold", "titleFontSize": 15, "titleLineHeight": 19, "titlePadding": 8}},
  "y2": {"field": "hi"},
  "fill": {"field": "series", "type": "nominal", "scale": {"domain": ["3-token upfront message", "1-token upfront message", "real-time messaging"], "range": ["#86d886", "#d8d77e", "#9c9de3"]}, "legend": null}}},
{"data": {"name": "tl_band"}, "mark": {"type": "line", "clip": true, "strokeDash": [1.5, 2.5], "strokeWidth": 1.5},
 "encoding": {
  "x": {"field": "x", "type": "quantitative", "scale": {"domain": [-0.098, 4.09], "nice": false, "zero": false}, "axis": null},
  "y": {"field": "mean", "type": "quantitative", "scale": {"domain": [-0.1, 1.1], "nice": false, "zero": false}, "axis": {"values": [0, 0.25, 0.5, 0.75, 1], "format": ".2f", "title": ["Mean return", "per episode"], "titleFontWeight": "bold", "titleFontSize": 15, "titleLineHeight": 19, "titlePadding": 8}},
  "color": {"field": "series", "type": "nominal", "scale": {"domain": ["1-token upfront message", "real-time messaging", "3-token upfront message"], "range": ["#b5b520", "#3b3f80", "#2a9a2a"]}, "legend": null}}},
{"data": {"name": "tl_line"}, "mark": {"type": "line", "clip": true, "strokeWidth": 2},
 "encoding": {
  "x": {"field": "x", "type": "quantitative", "scale": {"domain": [-0.098, 4.09], "nice": false, "zero": false}, "axis": null},
  "y": {"field": "y", "type": "quantitative", "scale": {"domain": [-0.1, 1.1], "nice": false, "zero": false}, "axis": {"values": [0, 0.25, 0.5, 0.75, 1], "format": ".2f", "title": ["Mean return", "per episode"], "titleFontWeight": "bold", "titleFontSize": 15, "titleLineHeight": 19, "titlePadding": 8}},
  "stroke": {"field": "series", "type": "nominal", "scale": {"domain": ["real-time messaging", "1-token upfront message", "3-token upfront message"], "range": ["#393c7c", "#bcbd22", "#2ca02c"]},
   "legend": {"orient": "none", "legendX": 162, "legendY": 89, "title": null, "symbolType": "stroke", "symbolSize": 576, "symbolStrokeWidth": 2, "clipHeight": 17, "labelFontSize": 11.5, "labelOffset": 8, "padding": 2, "rowPadding": 0, "fillColor": "white", "strokeColor": "#cccccc", "cornerRadius": 3, "labelColor": "#1a1a1a"}}}}
]
},
{
"width": 353, "height": 186,
"title": {"text": "With visibility", "color": "#b44c4c", "fontSize": 13.5, "fontWeight": "normal", "offset": 3},
"layer": [
{"data": {"name": "tr_band"}, "mark": {"type": "area", "clip": true, "opacity": 0.8},
 "encoding": {
  "x": {"field": "x", "type": "quantitative", "scale": {"domain": [-0.098, 4.09], "nice": false, "zero": false}, "axis": null},
  "y": {"field": "lo", "type": "quantitative", "scale": {"domain": [-0.1, 1.1], "nice": false, "zero": false}, "axis": null},
  "y2": {"field": "hi"},
  "fill": {"field": "series", "type": "nominal", "scale": {"domain": ["3-token upfront message", "1-token upfront message", "real-time messaging"], "range": ["#86d886", "#d8d77e", "#e3868b"]}, "legend": null}}},
{"data": {"name": "tr_band"}, "mark": {"type": "line", "clip": true, "strokeDash": [1.5, 2.5], "strokeWidth": 1.5},
 "encoding": {
  "x": {"field": "x", "type": "quantitative", "scale": {"domain": [-0.098, 4.09], "nice": false, "zero": false}, "axis": null},
  "y": {"field": "mean", "type": "quantitative", "scale": {"domain": [-0.1, 1.1], "nice": false, "zero": false}, "axis": null},
  "color": {"field": "series", "type": "nominal", "scale": {"domain": ["1-token upfront message", "real-time messaging", "3-token upfront message"], "range": ["#b5b520", "#b04a4a", "#2a9a2a"]}, "legend": null}}},
{"data": {"name": "tr_line"}, "mark": {"type": "line", "clip": true, "strokeWidth": 2},
 "encoding": {
  "x": {"field": "x", "type": "quantitative", "scale": {"domain": [-0.098, 4.09], "nice": false, "zero": false}, "axis": null},
  "y": {"field": "y", "type": "quantitative", "scale": {"domain": [-0.1, 1.1], "nice": false, "zero": false}, "axis": null},
  "stroke": {"field": "series", "type": "nominal", "scale": {"domain": ["real-time messaging", "1-token upfront message", "3-token upfront message"], "range": ["#b44c4c", "#bcbd22", "#2ca02c"]},
   "legend": {"orient": "none", "legendX": 163, "legendY": 90, "title": null, "symbolType": "stroke", "symbolSize": 576, "symbolStrokeWidth": 2, "clipHeight": 17, "labelFontSize": 11.5, "labelOffset": 8, "padding": 2, "rowPadding": 0, "fillColor": "white", "strokeColor": "#cccccc", "cornerRadius": 3, "labelColor": "#1a1a1a"}}}}
]
}
]
},
{
"spacing": 0,
"resolve": {"scale": {"color": "independent", "fill": "independent", "stroke": "independent"}, "legend": {"color": "independent", "fill": "independent", "stroke": "independent"}},
"hconcat": [
{
"width": 353, "height": 186,
"resolve": {"axis": {"x": "independent"}},
"layer": [
{"data": {"name": "bl_band"}, "mark": {"type": "area", "clip": true},
 "encoding": {
  "x": {"field": "x", "type": "quantitative", "scale": {"domain": [-0.098, 4.09], "nice": false, "zero": false}, "axis": {"values": [0, 1, 2, 3, 4], "format": "d", "title": "training steps", "titlePadding": 5}},
  "y": {"field": "lo", "type": "quantitative", "scale": {"domain": [-0.1, 1.1], "nice": false, "zero": false}, "axis": {"values": [0, 0.25, 0.5, 0.75, 1], "format": ".2f", "title": ["Normalized reward", "per step"], "titleFontWeight": "bold", "titleFontSize": 15, "titleLineHeight": 19, "titlePadding": 8}},
  "y2": {"field": "hi"},
  "fill": {"field": "series", "type": "nominal", "scale": {"domain": ["3-token upfront message", "1-token upfront message", "real-time messaging"], "range": ["#86d886", "#d8d77e", "#9c9de3"]}, "legend": null}}},
{"data": {"name": "bl_band"}, "mark": {"type": "line", "clip": true, "strokeDash": [1.5, 2.5], "strokeWidth": 1.5},
 "encoding": {
  "x": {"field": "x", "type": "quantitative", "scale": {"domain": [-0.098, 4.09], "nice": false, "zero": false}, "axis": null},
  "y": {"field": "mean", "type": "quantitative", "scale": {"domain": [-0.1, 1.1], "nice": false, "zero": false}, "axis": {"values": [0, 0.25, 0.5, 0.75, 1], "format": ".2f", "title": ["Normalized reward", "per step"], "titleFontWeight": "bold", "titleFontSize": 15, "titleLineHeight": 19, "titlePadding": 8}},
  "color": {"field": "series", "type": "nominal", "scale": {"domain": ["1-token upfront message", "real-time messaging", "3-token upfront message"], "range": ["#b5b520", "#3b3f80", "#2a9a2a"]}, "legend": null}}},
{"data": {"name": "bl_line"}, "mark": {"type": "line", "clip": true, "strokeWidth": 2},
 "encoding": {
  "x": {"field": "x", "type": "quantitative", "scale": {"domain": [-0.098, 4.09], "nice": false, "zero": false}, "axis": {"orient": "bottom", "values": [4], "labelExpr": "'1e7'", "ticks": false, "tickSize": 0, "labelPadding": 28, "labelAlign": "right", "labelOffset": 4, "title": null}},
  "y": {"field": "y", "type": "quantitative", "scale": {"domain": [-0.1, 1.1], "nice": false, "zero": false}, "axis": {"values": [0, 0.25, 0.5, 0.75, 1], "format": ".2f", "title": ["Normalized reward", "per step"], "titleFontWeight": "bold", "titleFontSize": 15, "titleLineHeight": 19, "titlePadding": 8}},
  "stroke": {"field": "series", "type": "nominal", "scale": {"domain": ["real-time messaging", "1-token upfront message", "3-token upfront message"], "range": ["#393c7c", "#bcbd22", "#2ca02c"]}, "legend": null}}}
]
},
{
"width": 353, "height": 186,
"resolve": {"axis": {"x": "independent"}},
"layer": [
{"data": {"name": "br_band"}, "mark": {"type": "area", "clip": true, "opacity": 0.8},
 "encoding": {
  "x": {"field": "x", "type": "quantitative", "scale": {"domain": [-0.098, 4.09], "nice": false, "zero": false}, "axis": {"values": [0, 1, 2, 3, 4], "format": "d", "title": "training steps", "titlePadding": 5}},
  "y": {"field": "lo", "type": "quantitative", "scale": {"domain": [-0.1, 1.1], "nice": false, "zero": false}, "axis": null},
  "y2": {"field": "hi"},
  "fill": {"field": "series", "type": "nominal", "scale": {"domain": ["3-token upfront message", "1-token upfront message", "real-time messaging"], "range": ["#86d886", "#d8d77e", "#e3868b"]}, "legend": null}}},
{"data": {"name": "br_band"}, "mark": {"type": "line", "clip": true, "strokeDash": [1.5, 2.5], "strokeWidth": 1.5},
 "encoding": {
  "x": {"field": "x", "type": "quantitative", "scale": {"domain": [-0.098, 4.09], "nice": false, "zero": false}, "axis": null},
  "y": {"field": "mean", "type": "quantitative", "scale": {"domain": [-0.1, 1.1], "nice": false, "zero": false}, "axis": null},
  "color": {"field": "series", "type": "nominal", "scale": {"domain": ["1-token upfront message", "real-time messaging", "3-token upfront message"], "range": ["#b5b520", "#b04a4a", "#2a9a2a"]}, "legend": null}}},
{"data": {"name": "br_line"}, "mark": {"type": "line", "clip": true, "strokeWidth": 2},
 "encoding": {
  "x": {"field": "x", "type": "quantitative", "scale": {"domain": [-0.098, 4.09], "nice": false, "zero": false}, "axis": {"orient": "bottom", "values": [4], "labelExpr": "'1e7'", "ticks": false, "tickSize": 0, "labelPadding": 28, "labelAlign": "right", "labelOffset": 4, "title": null}},
  "y": {"field": "y", "type": "quantitative", "scale": {"domain": [-0.1, 1.1], "nice": false, "zero": false}, "axis": null},
  "stroke": {"field": "series", "type": "nominal", "scale": {"domain": ["real-time messaging", "1-token upfront message", "3-token upfront message"], "range": ["#b44c4c", "#bcbd22", "#2ca02c"]}, "legend": null}}}
]
}
]
}
]
},
{
"spacing": 5,
"resolve": {"scale": {"color": "independent", "fill": "independent", "stroke": "independent"}, "legend": {"color": "independent", "fill": "independent", "stroke": "independent"}},
"vconcat": [
{
"data": {"name": "hm1"},
"width": 170, "height": 137,
"view": {"stroke": "#888888"},
"title": {"text": ["", "p(goal location | message)"], "lineHeight": 10, "color": "#bcbd22", "fontSize": 19, "fontWeight": "bold", "offset": 2},
"mark": {"type": "rect"},
"encoding": {
 "x": {"field": "message", "type": "ordinal", "sort": ["0", "1", "2", "3", "4"], "scale": {"paddingInner": 0, "paddingOuter": 0}, "axis": {"title": "speaker's upfront message", "labelAngle": 0, "tickSize": 4, "labelPadding": 3, "titlePadding": 3}},
 "y": {"field": "goal", "type": "nominal", "sort": ["top left", "bottom left", "top right", "bottom right"], "scale": {"paddingInner": 0, "paddingOuter": 0}, "axis": {"title": "goal location", "labelExpr": "split(datum.label, ' ')", "labelFontSize": 12.5, "labelLineHeight": 15, "tickSize": 4, "labelPadding": 3, "titlePadding": 3}},
 "color": {"field": "p", "type": "quantitative", "scale": {"domain": [0, 1], "range": ["#000000", "#ffffff"], "interpolate": "rgb"},
  "legend": {"type": "gradient", "orient": "right", "offset": 16, "title": null, "direction": "vertical", "gradientLength": 137, "gradientThickness": 12, "values": [0, 0.25, 0.5, 0.75, 1], "format": ".2f", "labelFontSize": 15, "labelOffset": 7, "labelBaseline": "middle", "padding": 0, "gradientStrokeColor": "#888888", "gradientStrokeWidth": 1, "labelColor": "#1a1a1a"}}
}
},
{
"data": {"name": "hm2"},
"width": 171, "height": 137,
"view": {"stroke": "#888888"},
"title": {"text": "p(goal location | message)", "color": "#2ca02c", "fontSize": 19, "fontWeight": "bold", "offset": 6},
"mark": {"type": "rect"},
"encoding": {
 "x": {"field": "message", "type": "nominal", "sort": ["[2,1,0]", "[4,3,4]", "[2,2,2]", "[4,4,4]", "other"], "scale": {"paddingInner": 0, "paddingOuter": 0}, "axis": {"title": "speaker's upfront message", "labelAngle": -30, "labelAlign": "center", "labelBaseline": "middle", "tickSize": 4, "labelPadding": 20, "titlePadding": 0}},
 "y": {"field": "goal", "type": "nominal", "sort": ["top left", "bottom left", "top right", "bottom right"], "scale": {"paddingInner": 0, "paddingOuter": 0}, "axis": {"title": "goal location", "labelExpr": "split(datum.label, ' ')", "labelFontSize": 12.5, "labelLineHeight": 15, "tickSize": 4, "labelPadding": 3, "titlePadding": 3}},
 "color": {"field": "p", "type": "quantitative", "scale": {"domain": [0, 1], "range": ["#000000", "#ffffff"], "interpolate": "rgb"}, "legend": null}
}
}
]
}
]
}
